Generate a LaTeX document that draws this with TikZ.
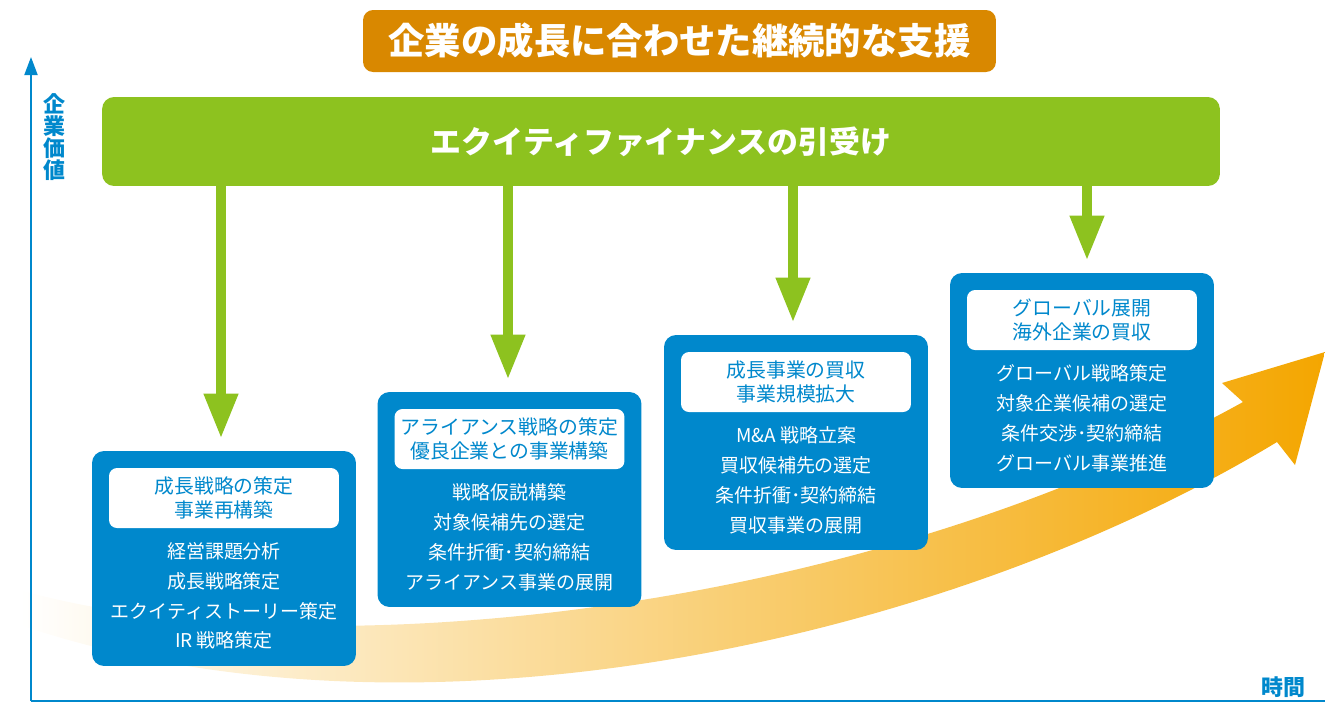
\documentclass[tikz,border=0pt]{standalone}
\usepackage{fontspec}
\setmainfont{Noto Sans CJK JP}
\usetikzlibrary{positioning, arrows.meta, calc}

\definecolor{stageblue}{HTML}{0088CC}
\definecolor{growthgreen}{HTML}{8DC21F}
\definecolor{titleorange}{HTML}{D98800}
\definecolor{arroworange}{HTML}{F4A600}

\begin{document}
\begin{tikzpicture}[x=0.02cm, y=-0.02cm,
    stagebox/.style={fill=stageblue, rounded corners=0.24cm, minimum width=5.28cm, minimum height=4.3cm, inner sep=0},
    labelbox/.style={fill=white, rounded corners=0.16cm, minimum width=4.6cm, minimum height=1.2cm, inner sep=0,
        text=stageblue, align=center, font=\fontsize{11.3}{13.6}\selectfont},
    tasklist/.style={text=white, align=center, font=\fontsize{10.8}{17}\selectfont},
    feed/.style={growthgreen, line width=0.2cm, -{Triangle[width=0.64cm,length=0.9cm]}},
    axisline/.style={stageblue, line width=0.04cm},
    axislabel/.style={text=stageblue, align=center, font=\bfseries\fontsize{12.5}{12.5}\selectfont}]
\useasboundingbox (0,0) rectangle (1325,704);

% Growth arrow behind everything
\shade[left color=white, right color=arroworange]
    (20,590) .. controls (300,670) and (850,620) .. (1243,402) -- (1222,383) -- (1325,352)
    -- (1295,465) -- (1277,442) .. controls (950,640) and (420,760) .. (20,625) -- cycle;

% Axes
\coordinate (o) at (31,701);
\coordinate (ytop) at (31,57);
\coordinate (xend) at (1325,701);
\draw[axisline, -{Triangle[width=0.26cm,length=0.36cm]}] (o) -- (ytop);
\draw[axisline] (o) -- (xend);
\node[axislabel] (yl) at (54,137) {企\\業\\価\\値};
\node[axislabel] (xl) at (1283,687) {時間};

% Title
\node[fill=titleorange, rounded corners=0.2cm, minimum width=12.66cm, minimum height=1.24cm, text=white,
    font=\bfseries\fontsize{20.7}{24}\selectfont] (title) at (679.5,41) {企業の成長に合わせた継続的な支援};

% Equity finance bar
\node[fill=growthgreen, rounded corners=0.24cm, minimum width=22.36cm, minimum height=1.78cm, text=white,
    font=\bfseries\fontsize{17.6}{20}\selectfont] (eq) at (661,141.5) {エクイティファイナンスの引受け};

% Stages
\node[stagebox] (s1) at (224,558.5) {};
\node[labelbox, below=0.34cm of s1.north] (l1) {成長戦略の策定\\事業再構築};
\node[tasklist] (t1) at ([yshift=-0.75cm]s1.center) {経営課題分析\\成長戦略策定\\エクイティストーリー策定\\IR 戦略策定};

\node[stagebox] (s2) at (509.5,499.5) {};
\node[labelbox, below=0.34cm of s2.north] (l2) {アライアンス戦略の策定\\優良企業との事業構築};
\node[tasklist] (t2) at ([yshift=-0.75cm]s2.center) {戦略仮説構築\\対象候補先の選定\\条件折衝･契約締結\\アライアンス事業の展開};

\node[stagebox] (s3) at (796,442.5) {};
\node[labelbox, below=0.34cm of s3.north] (l3) {成長事業の買収\\事業規模拡大};
\node[tasklist] (t3) at ([yshift=-0.75cm]s3.center) {M\&A 戦略立案\\買収候補先の選定\\条件折衝･契約締結\\買収事業の展開};

\node[stagebox] (s4) at (1082,380.5) {};
\node[labelbox, below=0.34cm of s4.north] (l4) {グローバル展開\\海外企業の買収};
\node[tasklist] (t4) at ([yshift=-0.75cm]s4.center) {グローバル戦略策定\\対象企業候補の選定\\条件交渉･契約締結\\グローバル事業推進};

% Feeds from the bar
\foreach \s/\dx in {s1/-3, s2/-1.5, s3/-3, s4/5}
    \draw[feed] ($(eq.south -| \s.north)+(\dx,0)$) -- ($(\s.north)+(\dx,-12)$);
\end{tikzpicture}
\end{document}
